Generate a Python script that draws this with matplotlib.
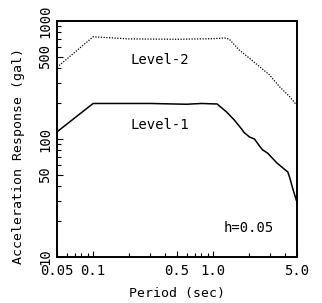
import matplotlib
matplotlib.use("Agg")
import matplotlib.pyplot as plt
from matplotlib.ticker import FixedLocator, NullFormatter, FixedFormatter

# Data
period_l1 = [0.05, 0.1, 0.3, 0.6, 0.8, 1.08, 1.29, 1.50, 1.71, 1.82, 2.01, 2.21,
             2.44, 2.58, 2.84, 3.07, 3.38, 3.80, 4.19, 4.35, 4.61, 5.0]
sa_l1 = [115, 200, 200, 197, 200, 198, 170, 145, 123, 113, 104, 100,
         87, 81, 76, 70, 63, 57, 52.5, 47, 38, 29]

period_l2 = [0.05, 0.1, 0.2, 0.5, 1.0, 1.25, 1.36, 1.65, 2.01, 2.44, 2.95, 3.58, 4.35, 5.0]
sa_l2 = [405, 735, 705, 700, 708, 718, 703, 568, 483, 410, 349, 277, 228, 192]

x_ticks = [0.05, 0.1, 0.5, 1.0, 5.0]
x_tick_labels = ["0.05", "0.1", "0.5", "1.0", "5.0"]
y_ticks = [10, 50, 100, 500, 1000]
y_tick_labels = ["10", "50", "100", "500", "1000"]

FONT = "DejaVu Sans Mono"
FS = 9.5

fig = plt.figure(figsize=(3.22, 3.03), dpi=100)
ax = fig.add_axes([57/322, 1 - 257/303, 240/322, 236/303])

ax.plot(period_l2, sa_l2, color="black", linestyle=(0, (1, 1.2)), linewidth=0.9)
ax.plot(period_l1, sa_l1, color="black", linestyle="-", linewidth=1.1)

ax.set_xscale("log")
ax.set_yscale("log")
ax.set_xlim(0.05, 5.0)
ax.set_ylim(10, 1000)

ax.xaxis.set_major_locator(FixedLocator(x_ticks))
ax.xaxis.set_major_formatter(FixedFormatter(x_tick_labels))
minor_x = [v * d for d in (0.01, 0.1, 1.0) for v in range(2, 10)]
ax.xaxis.set_minor_locator(FixedLocator([m for m in minor_x if 0.05 <= m <= 5.0]))
ax.xaxis.set_minor_formatter(NullFormatter())

ax.yaxis.set_major_locator(FixedLocator(y_ticks))
ax.yaxis.set_major_formatter(FixedFormatter(y_tick_labels))
minor_y = [v * d for d in (10, 100) for v in range(2, 10)]
ax.yaxis.set_minor_locator(FixedLocator(minor_y))
ax.yaxis.set_minor_formatter(NullFormatter())

ax.tick_params(which="both", direction="in", top=False, right=False, width=0.8)
ax.tick_params(which="major", length=4)
ax.tick_params(which="minor", length=3)
ax.tick_params(axis="x", which="major", pad=5)
for lbl in ax.get_xticklabels():
    lbl.set_fontfamily(FONT)
    lbl.set_fontsize(FS + 0.5)
for lbl in ax.get_yticklabels():
    lbl.set_fontfamily(FONT)
    lbl.set_fontsize(FS + 0.5)
    lbl.set_rotation(90)
    lbl.set_va("center")

for sp in ax.spines.values():
    sp.set_linewidth(1.4)
    sp.set_color("black")

ax.set_xlabel("Period (sec)", fontfamily=FONT, fontsize=FS)
ax.set_ylabel("Acceleration Response (gal)", fontfamily=FONT, fontsize=FS)
ax.xaxis.set_label_coords(0.5, -0.125)
ax.yaxis.set_label_coords(-0.135, 0.43)

ax.text(0.43, 0.835, "Level-2", transform=ax.transAxes, ha="center", va="center",
        fontfamily=FONT, fontsize=FS + 0.5)
ax.text(0.43, 0.56, "Level-1", transform=ax.transAxes, ha="center", va="center",
        fontfamily=FONT, fontsize=FS + 0.5)
ax.text(0.80, 0.125, "h=0.05", transform=ax.transAxes, ha="center", va="center",
        fontfamily=FONT, fontsize=FS + 0.5)

fig.savefig("out.png", dpi=100)
